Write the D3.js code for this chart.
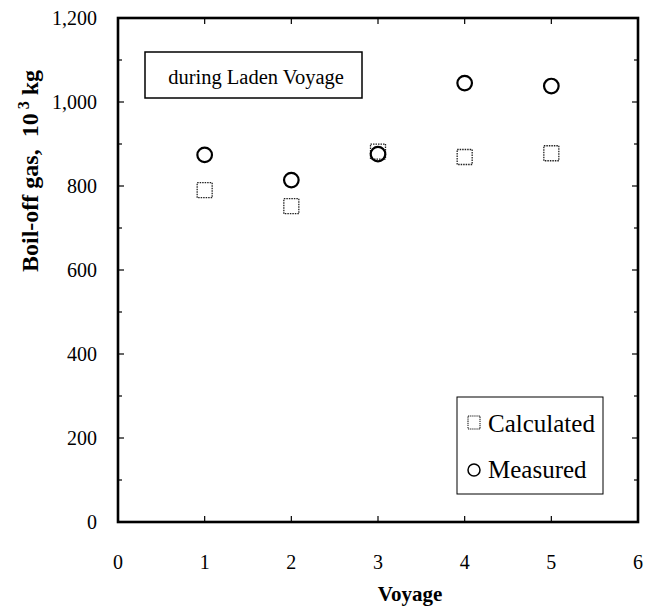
<!DOCTYPE html>
<html>
<head>
<meta charset="utf-8">
<script src="https://cdn.jsdelivr.net/npm/d3@7"></script>
<style>
  body { margin: 0; background: #fff; }
  text { font-family: "Liberation Serif", "Times New Roman", serif; fill: #000; }
</style>
</head>
<body>
<svg id="chart" width="657" height="608"></svg>
<script>
const voyages = [1, 2, 3, 4, 5];
const calculated = [790, 752, 882, 869, 878];
const measured = [874, 814, 876, 1045, 1038];
const xTicks = [0, 1, 2, 3, 4, 5, 6];
const yTicks = [0, 200, 400, 600, 800, 1000, 1200];
const yMinor = [100, 300, 500, 700, 900, 1100];

const svg = d3.select("#chart");
const plotL = 118, plotR = 638, plotT = 18, plotB = 522;

const x = d3.scaleLinear().domain([0, 6]).range([plotL, plotR]);
const y = d3.scaleLinear().domain([0, 1200]).range([plotB, plotT]);

// tick labels
svg.append("g").selectAll("text")
  .data(yTicks)
  .enter()
  .append("text")
  .attr("x", 97)
  .attr("y", d => y(d) + 7)
  .attr("text-anchor", "end")
  .style("font-size", "20px")
  .text(d => d3.format(",")(d));

svg.append("g").selectAll("text")
  .data(xTicks)
  .enter()
  .append("text")
  .attr("x", d => x(d))
  .attr("y", 569)
  .attr("text-anchor", "middle")
  .style("font-size", "20px")
  .text(d => d);

// inward ticks
const tk = svg.append("g").attr("stroke", "#000").attr("stroke-width", 1.2);
yTicks.concat(yMinor).forEach(v => {
  const len = yTicks.includes(v) ? 6 : 4;
  tk.append("line").attr("x1", plotL).attr("x2", plotL + len).attr("y1", y(v)).attr("y2", y(v));
  tk.append("line").attr("x1", plotR).attr("x2", plotR - len).attr("y1", y(v)).attr("y2", y(v));
});
xTicks.forEach(v => {
  tk.append("line").attr("x1", x(v)).attr("x2", x(v)).attr("y1", plotB).attr("y2", plotB - 6);
  tk.append("line").attr("x1", x(v)).attr("x2", x(v)).attr("y1", plotT).attr("y2", plotT + 6);
});

// frame
svg.append("rect")
  .attr("x", plotL).attr("y", plotT)
  .attr("width", plotR - plotL).attr("height", plotB - plotT)
  .attr("fill", "none").attr("stroke", "#000").attr("stroke-width", 2.6);

// axis titles
svg.append("text")
  .attr("transform", "translate(38,171) rotate(-90)")
  .attr("text-anchor", "middle")
  .style("font-size", "24px")
  .style("font-weight", "bold")
  .html('Boil-off gas,&#160;&#160;10<tspan dy="-9" font-size="16px"> 3</tspan><tspan dy="9"> kg</tspan>');

svg.append("text")
  .attr("x", 410).attr("y", 601)
  .attr("text-anchor", "middle")
  .style("font-size", "21px")
  .style("font-weight", "bold")
  .text("Voyage");

// title box
svg.append("rect")
  .attr("x", 145).attr("y", 52).attr("width", 217).attr("height", 46)
  .attr("fill", "#fff").attr("stroke", "#000").attr("stroke-width", 1.5);
svg.append("text")
  .attr("x", 256).attr("y", 84)
  .attr("text-anchor", "middle")
  .style("font-size", "20.5px")
  .text("during Laden Voyage");

// data
const calcPts = voyages.map((v, i) => ({ v: v, val: calculated[i] }));
const measPts = voyages.map((v, i) => ({ v: v, val: measured[i] }));

svg.append("g").selectAll("rect")
  .data(calcPts)
  .enter()
  .append("rect")
  .attr("x", d => x(d.v) - 7.5)
  .attr("y", d => y(d.val) - 7.5)
  .attr("width", 15).attr("height", 15)
  .attr("fill", "none")
  .attr("stroke", "#222")
  .attr("stroke-width", 1.3)
  .attr("stroke-dasharray", "1.5,1");

svg.append("g").selectAll("circle")
  .data(measPts)
  .enter()
  .append("circle")
  .attr("cx", d => x(d.v))
  .attr("cy", d => y(d.val))
  .attr("r", 7.3)
  .attr("fill", "none")
  .attr("stroke", "#000")
  .attr("stroke-width", 2.2);

// legend
const lg = svg.append("g");
lg.append("rect")
  .attr("x", 457).attr("y", 397).attr("width", 146).attr("height", 97)
  .attr("fill", "#fff").attr("stroke", "#000").attr("stroke-width", 1);
lg.append("rect")
  .attr("x", 468).attr("y", 416).attr("width", 12).attr("height", 13)
  .attr("fill", "none").attr("stroke", "#222").attr("stroke-width", 1.1)
  .attr("stroke-dasharray", "1.3,0.8");
lg.append("circle")
  .attr("cx", 474).attr("cy", 470).attr("r", 6)
  .attr("fill", "none").attr("stroke", "#000").attr("stroke-width", 1.5);
lg.append("text").attr("x", 488).attr("y", 432).style("font-size", "25px").text("Calculated");
lg.append("text").attr("x", 488).attr("y", 478).style("font-size", "25px").text("Measured");
</script>
</body>
</html>
